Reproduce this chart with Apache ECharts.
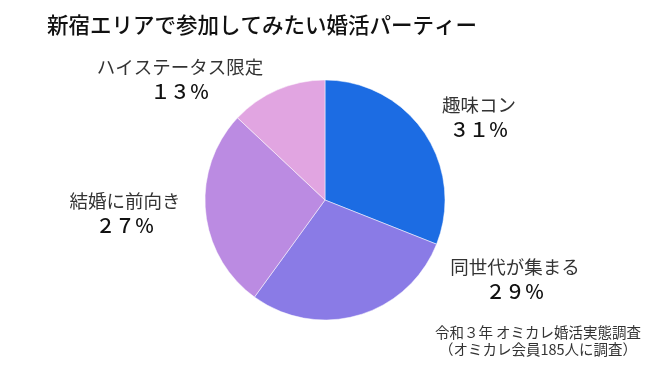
<!DOCTYPE html>
<html><head><meta charset="utf-8">
<script src="https://cdn.jsdelivr.net/npm/echarts@6/dist/echarts.min.js"></script>
<style>html,body{margin:0;padding:0;background:#fff}#c{width:650px;height:366px}</style>
</head><body><div id="c"></div>
<script>
const titleText = '新宿エリアで参加してみたい婚活パーティー';
const categories = ['趣味コン', '同世代が集まる', '結婚に前向き', 'ハイステータス限定'];
const values = [31, 29, 27, 13];
const colors = ['#1c6ce3', '#8a7be6', '#bb8be2', '#e1a5e1'];
const sourceLines = ['令和３年 オミカレ婚活実態調査', '（オミカレ会員185人に調査）'];

const labelPos = [[479, 117], [515, 279], [125, 213], [180, 79]];
const FONT = '"Noto Sans CJK JP", "Noto Sans", sans-serif';
function toFull(s){return String(s).replace(/[0-9]/g, d => String.fromCharCode(d.charCodeAt(0) + 0xFEE0)) + '％';}

const chart = echarts.init(document.getElementById('c'), null, {renderer: 'canvas'});
chart.setOption({
  animation: false,
  title: {
    text: titleText, left: 42, top: 9,
    textStyle: {fontFamily: FONT, fontSize: 21.5, fontWeight: 500, color: '#111'}
  },
  graphic: [{
    type: 'text', x: 538, y: 324,
    style: {text: sourceLines.join('\n'), align: 'center', verticalAlign: 'top',
      font: '14.5px ' + FONT, lineHeight: 17, fill: '#333'}
  }],
  series: [{
    type: 'pie',
    center: [325, 200],
    radius: [0, 120],
    startAngle: 90,
    clockwise: true,
    data: categories.map((n, i) => ({name: n, value: values[i], itemStyle: {color: colors[i]}})),
    itemStyle: {borderColor: '#fff', borderWidth: 0.5},
    label: {
      show: true,
      position: 'outside',
      formatter: p => '{name|' + p.name + '}\n{val|' + toFull(p.value) + '}',
      rich: {
        name: {fontFamily: FONT, fontSize: 18.5, color: '#333', lineHeight: 25, align: 'center'},
        val: {fontFamily: FONT, fontSize: 19.5, color: '#111', fontWeight: 500, lineHeight: 25, align: 'center'}
      }
    },
    labelLine: {show: false},
    labelLayout: p => ({x: labelPos[p.dataIndex][0], y: labelPos[p.dataIndex][1], align: 'center', verticalAlign: 'middle'})
  }]
});
</script></body></html>
